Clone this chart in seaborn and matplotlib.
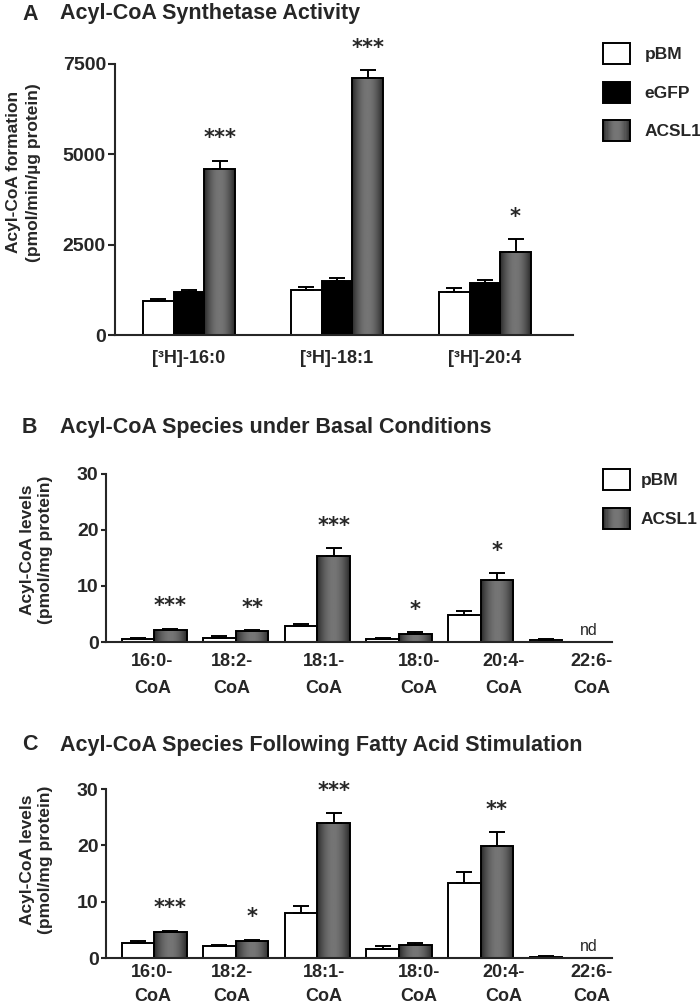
import numpy as np
import pandas as pd
import matplotlib
matplotlib.use("Agg")
import matplotlib.pyplot as plt
import seaborn as sns
from matplotlib.patches import Patch, Rectangle
from matplotlib.legend_handler import HandlerBase

# ---------------- data ----------------
# Panel A: acyl-CoA synthetase activity
a_substrates = ["[³H]-16:0", "[³H]-18:1", "[³H]-20:4"]
a_groups = ["pBM", "eGFP", "ACSL1"]
a_pbm = [950, 1250, 1200]
a_pbm_err = [60, 90, 100]
a_egfp = [1200, 1500, 1450]
a_egfp_err = [40, 80, 70]
a_acsl1 = [4600, 7100, 2300]
a_acsl1_err = [220, 230, 350]
a_stars = ["***", "***", "*"]
a_yticks = [0, 2500, 5000, 7500]

# Panels B and C: acyl-CoA species
species = ["16:0-\nCoA", "18:2-\nCoA", "18:1-\nCoA", "18:0-\nCoA", "20:4-\nCoA", "22:6-\nCoA"]
bc_groups = ["pBM", "ACSL1"]

b_pbm = [0.6, 0.8, 2.9, 0.6, 4.85, 0.3]
b_pbm_err = [0.2, 0.2, 0.4, 0.2, 0.6, 0.15]
b_acsl1 = [2.1, 1.95, 15.4, 1.5, 11.1, np.nan]
b_acsl1_err = [0.3, 0.2, 1.3, 0.2, 1.2, np.nan]
b_stars = ["***", "**", "***", "*", "*", ""]

c_pbm = [2.65, 2.05, 8.0, 1.65, 13.3, 0.18]
c_pbm_err = [0.35, 0.2, 1.2, 0.4, 2.0, 0.15]
c_acsl1 = [4.55, 3.0, 23.9, 2.25, 19.9, np.nan]
c_acsl1_err = [0.25, 0.25, 1.8, 0.4, 2.4, np.nan]
c_stars = ["***", "*", "***", "", "**", ""]
bc_yticks = [0, 10, 20, 30]

# ---------------- style ----------------
sns.set_style("ticks")
plt.rcParams["font.family"] = ["Liberation Sans", "DejaVu Sans"]
plt.rcParams["font.weight"] = "bold"
plt.rcParams["axes.linewidth"] = 1.5

colors = {"pBM": "#ffffff", "eGFP": "#000000", "ACSL1": "#505050"}
W, H = 700, 1005
fig = plt.figure(figsize=(W / 100, H / 100), dpi=100)


def grad_values(n):
    t = (np.arange(n) + 0.5) / n
    return 0.15 + 0.31 * np.sin(np.pi * t) ** 0.9


def px_axes(left, right, top, bottom):
    return fig.add_axes([left / W, 1 - bottom / H, (right - left) / W, (bottom - top) / H])


def gradient_fill(ax, patch):
    x0, y0 = patch.get_x(), patch.get_y()
    w, h = patch.get_width(), patch.get_height()
    v = grad_values(64)
    im = ax.imshow(v[None, :], extent=[x0, x0 + w, y0, y0 + h], cmap="gray",
                   vmin=0, vmax=1, aspect="auto", interpolation="bilinear",
                   zorder=patch.get_zorder() - 0.01)
    im.set_clip_path(patch)
    patch.set_facecolor("none")


class GradHandler(HandlerBase):
    def create_artists(self, legend, orig_handle, xdescent, ydescent, width, height,
                       fontsize, trans):
        arts = []
        n = 24
        vals = grad_values(n)
        for k in range(n):
            arts.append(Rectangle((-xdescent + k * width / n, -ydescent), width / n * 1.1,
                                  height, facecolor=str(vals[k]), edgecolor="none",
                                  transform=trans))
        arts.append(Rectangle((-xdescent, -ydescent), width, height, facecolor="none",
                              edgecolor="black", linewidth=1.4, transform=trans))
        return arts


def panel(ax, cats, groups, vals, errs, width, stars, star_off, ylim, yticks,
          xlim, label_pos, xpad, ytick_len, lsp=1.75, nd=False):
    rows = []
    for g in groups:
        for c, v in zip(cats, vals[g]):
            if not np.isnan(v):
                rows.append({"cat": c, "val": v, "grp": g})
    df = pd.DataFrame(rows)
    sns.barplot(data=df, x="cat", y="val", hue="grp", order=cats, hue_order=groups,
                palette=[colors[g] for g in groups], width=width, saturation=1,
                edgecolor="black", linewidth=1.4, errorbar=None, legend=False, ax=ax)
    for g, cont in zip(groups, ax.containers):
        for p in cont.patches:
            xc = p.get_x() + p.get_width() / 2
            i = int(round(xc))
            top = p.get_height()
            e = errs[g][i]
            ax.errorbar([xc], [top], yerr=[[0], [e]], fmt="none", ecolor="black",
                        elinewidth=1.4, capsize=5.5, capthick=1.4, zorder=1.5)
            if g == "ACSL1":
                gradient_fill(ax, p)
                if stars[i]:
                    ax.text(xc, top + e + star_off, stars[i], ha="center", va="center",
                            fontsize=15, fontweight="bold", family="DejaVu Sans",
                            clip_on=False)
    if nd:
        n = len(groups)
        xnd = (len(cats) - 1) - width / 2 + width / n * (n - 0.5) + 0.12
        ax.text(xnd, ylim[1] * 0.022, "nd", ha="center", va="bottom", fontsize=11.5,
                fontweight="normal")
    ax.set_xlim(*xlim)
    ax.set_ylim(*ylim)
    ax.set_yticks(yticks)
    ax.set_yticklabels([str(t) for t in yticks], fontsize=14, fontweight="bold")
    ax.set_xticks(label_pos)
    ax.set_xticklabels(cats, fontsize=13, fontweight="bold", linespacing=lsp)
    ax.tick_params(axis="x", length=0, pad=xpad)
    ax.tick_params(axis="y", length=ytick_len, width=1.5, pad=1.5, direction="out")
    ax.set_xlabel("")
    sns.despine(ax=ax)


def legend(ax, groups, x, y_top, textpad):
    handles = [Patch(facecolor=colors[g], edgecolor="black", linewidth=1.4, label=g)
               for g in groups]
    hmap = {handles[groups.index("ACSL1")]: GradHandler()}
    ax.legend(handles=handles, handler_map=hmap, loc="upper left",
              bbox_to_anchor=(x / W, 1 - y_top / H), bbox_transform=fig.transFigure,
              frameon=False, handlelength=1.56, handleheight=1.5, labelspacing=1.0,
              handletextpad=textpad, borderpad=0, borderaxespad=0,
              prop={"weight": "bold", "size": 12.5})


# ---------------- panel A ----------------
axA = px_axes(115, 573, 64, 335)
panel(axA, a_substrates, a_groups,
      {"pBM": a_pbm, "eGFP": a_egfp, "ACSL1": a_acsl1},
      {"pBM": a_pbm_err, "eGFP": a_egfp_err, "ACSL1": a_acsl1_err},
      width=0.62, stars=a_stars, star_off=620, ylim=(0, 7500), yticks=a_yticks,
      xlim=(-0.5, 2.595), label_pos=[0, 1, 2], xpad=11, ytick_len=5)
axA.set_ylabel("Acyl-CoA formation\n(pmol/min/µg protein)", fontsize=12.5,
               fontweight="bold", linespacing=1.4)
axA.yaxis.set_label_coords(-0.162, 0.6)
legend(axA, a_groups, 603, 43, 0.85)

# ---------------- panels B and C ----------------
bc_label_pos = [-0.02, 0.95, 2.08, 3.24, 4.28, 5.36]

axB = px_axes(106, 612, 474, 642)
panel(axB, species, bc_groups,
      {"pBM": b_pbm, "ACSL1": b_acsl1},
      {"pBM": b_pbm_err, "ACSL1": b_acsl1_err},
      width=0.8, stars=b_stars, star_off=4.0, ylim=(0, 30), yticks=bc_yticks,
      xlim=(-0.59, 5.61), label_pos=bc_label_pos, xpad=8, ytick_len=3.8,
      lsp=1.75, nd=True)
axB.set_ylabel("Acyl-CoA levels\n(pmol/mg protein)", fontsize=12.5,
               fontweight="bold", linespacing=1.25)
axB.yaxis.set_label_coords(-0.105, 0.55)
legend(axB, bc_groups, 603, 469, 0.6)

axC = px_axes(106, 612, 789, 958)
panel(axC, species, bc_groups,
      {"pBM": c_pbm, "ACSL1": c_acsl1},
      {"pBM": c_pbm_err, "ACSL1": c_acsl1_err},
      width=0.8, stars=c_stars, star_off=4.0, ylim=(0, 30), yticks=bc_yticks,
      xlim=(-0.59, 5.61), label_pos=bc_label_pos, xpad=4.5, ytick_len=3.8,
      lsp=1.5, nd=True)
axC.set_ylabel("Acyl-CoA levels\n(pmol/mg protein)", fontsize=12.5,
               fontweight="bold", linespacing=1.25)
axC.yaxis.set_label_coords(-0.105, 0.58)

# ---------------- titles ----------------
for letter, title, yc in [("A", "Acyl-CoA Synthetase Activity", 14),
                          ("B", "Acyl-CoA Species under Basal Conditions", 427),
                          ("C", "Acyl-CoA Species Following Fatty Acid Stimulation", 745)]:
    fig.text(22 / W, 1 - yc / H, letter, ha="left", va="center", fontsize=15.5,
             fontweight="bold")
    fig.text(60 / W, 1 - yc / H, title, ha="left", va="center", fontsize=15.5,
             fontweight="bold")

fig.savefig("out.png", dpi=100)
